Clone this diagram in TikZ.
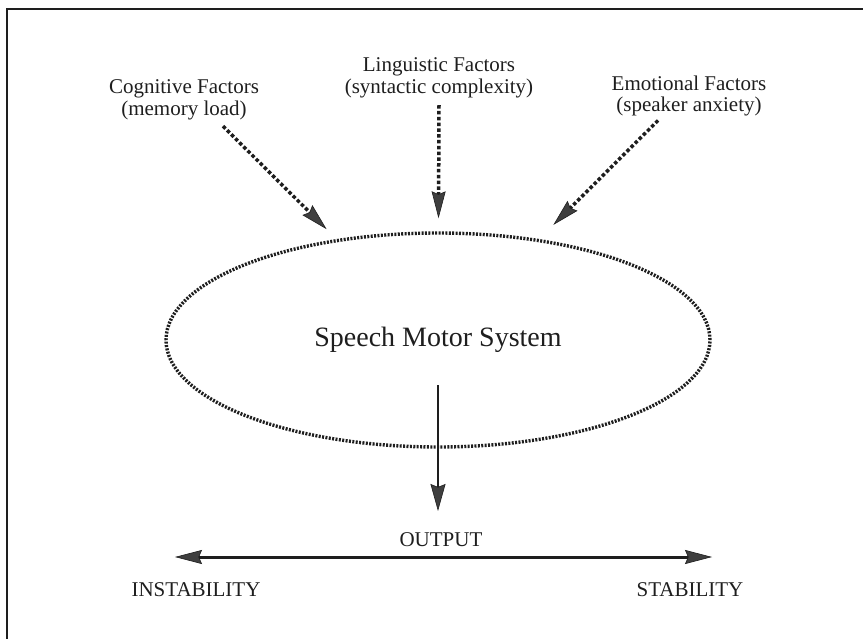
\documentclass[tikz,border=0pt]{standalone}
\usepackage{fontspec}
\setmainfont{Liberation Serif}
\usetikzlibrary{arrows.meta,shapes.geometric}
\definecolor{ink}{HTML}{1E1E1E}
\definecolor{headgray}{HTML}{3F3F3F}
\begin{document}
\begin{tikzpicture}[x=1pt,y=-1pt,
    factor/.style={align=center,inner sep=0pt,text=ink,font=\fontsize{21}{21.5}\selectfont},
    scale label/.style={inner sep=0pt,text=ink,font=\fontsize{21}{24}\selectfont},
    influence/.style={draw=ink,line width=3.5pt,dash pattern=on 3.5pt off 2.3pt,
        -{Stealth[length=27pt,width=14pt,inset=3pt,line width=0.6pt,fill=headgray]}},
    system/.style={ellipse,draw=ink,line width=3.4pt,dash pattern=on 2pt off 1.4pt,
        minimum width=544pt,minimum height=214pt,inner sep=0pt,text=ink,
        font=\fontsize{28}{32}\selectfont},
    output arrow/.style={draw=ink,line width=2.5pt,
        -{Stealth[length=27pt,width=15pt,inset=3pt,line width=0.6pt,fill=headgray]}},
    range arrow/.style={draw=ink,line width=3pt,
        {Stealth[length=27pt,width=14pt,inset=3pt,line width=0.6pt,fill=headgray]}-{Stealth[length=27pt,width=14pt,inset=3pt,line width=0.6pt,fill=headgray]}}]
    \useasboundingbox (0,0) rectangle (863,639);
    \draw [ink,line width=2pt] (7,639) -- (7,9) -- (863,9);
    \node [factor] (cog) at (184,100) {Cognitive Factors\\(memory load)};
    \node [factor] (ling) at (439,78) {Linguistic Factors\\(syntactic complexity)};
    \node [factor] (emo) at (689,96) {Emotional Factors\\(speaker anxiety)};
    \node [system] (sms) at (438,340) {Speech Motor System};
    \draw [influence,shorten >=14pt] (cog.south) ++(39,6) -- (sms);
    \draw [influence,shorten >=13pt] (ling.south) ++(0,7) -- (sms);
    \draw [influence,shorten >=20pt] (emo.south) ++(-31,4) -- (sms);
    \node [scale label] (out) at (441,540) {OUTPUT};
    \coordinate (outtip) at (438,511);
    \draw [output arrow] ([yshift=-45pt]sms.center) -- (outtip);
    \node [scale label] (instab) at (196,590) {INSTABILITY};
    \node [scale label] (stab) at (690,590) {STABILITY};
    \coordinate (lo) at (175,557);
    \coordinate (hi) at (712,557);
    \draw [range arrow] (lo) -- (hi);
\end{tikzpicture}
\end{document}
